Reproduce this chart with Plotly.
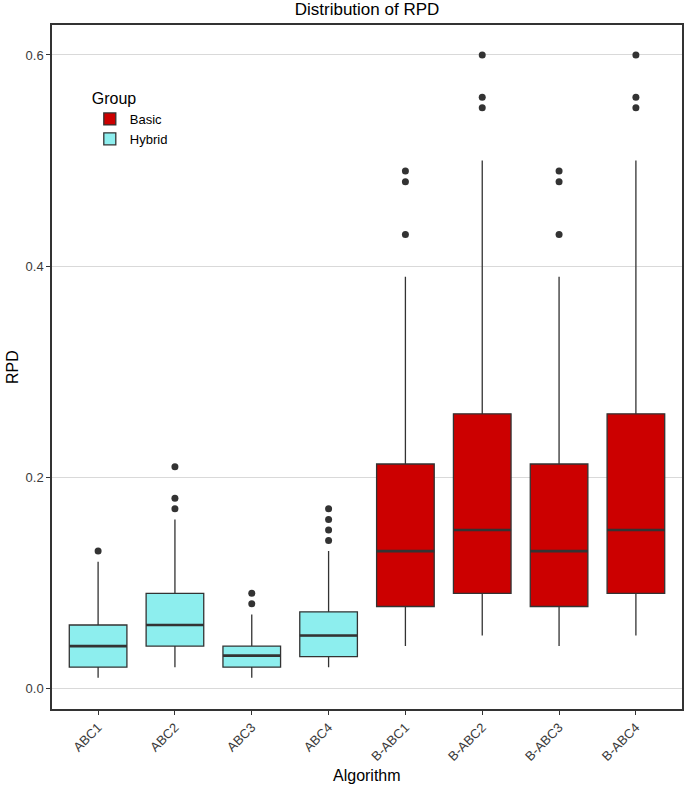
import plotly.graph_objects as go

categories = ["ABC1", "ABC2", "ABC3", "ABC4", "B-ABC1", "B-ABC2", "B-ABC3", "B-ABC4"]

hybrid_cats = ["ABC1", "ABC2", "ABC3", "ABC4"]
hybrid_lower = [0.01, 0.02, 0.01, 0.02]
hybrid_q1 = [0.02, 0.04, 0.02, 0.03]
hybrid_median = [0.04, 0.06, 0.031, 0.05]
hybrid_q3 = [0.06, 0.09, 0.04, 0.0725]
hybrid_upper = [0.12, 0.16, 0.07, 0.13]
hybrid_out_x = ["ABC1", "ABC2", "ABC2", "ABC2", "ABC3", "ABC3", "ABC4", "ABC4", "ABC4", "ABC4"]
hybrid_out_y = [0.13, 0.17, 0.18, 0.21, 0.08, 0.09, 0.14, 0.15, 0.16, 0.17]

basic_cats = ["B-ABC1", "B-ABC2", "B-ABC3", "B-ABC4"]
basic_lower = [0.04, 0.05, 0.04, 0.05]
basic_q1 = [0.0775, 0.09, 0.0775, 0.09]
basic_median = [0.13, 0.15, 0.13, 0.15]
basic_q3 = [0.2125, 0.26, 0.2125, 0.26]
basic_upper = [0.39, 0.50, 0.39, 0.50]
basic_out_x = ["B-ABC1", "B-ABC1", "B-ABC1", "B-ABC2", "B-ABC2", "B-ABC2",
               "B-ABC3", "B-ABC3", "B-ABC3", "B-ABC4", "B-ABC4", "B-ABC4"]
basic_out_y = [0.43, 0.48, 0.49, 0.55, 0.56, 0.60,
               0.43, 0.48, 0.49, 0.55, 0.56, 0.60]

y_ticks = [0.0, 0.2, 0.4, 0.6]
y_tick_labels = ["0.0", "0.2", "0.4", "0.6"]

RED = "#CC0000"
CYAN = "#8DEEEE"
LINE = "#333333"
FONT = "Arial, Liberation Sans, sans-serif"

W, H = 685, 791
L, R, T, B = 52, 3, 25, 82

fig = go.Figure()

for name, cats, lo, q1, med, q3, up, fill in [
    ("Basic", basic_cats, basic_lower, basic_q1, basic_median, basic_q3, basic_upper, RED),
    ("Hybrid", hybrid_cats, hybrid_lower, hybrid_q1, hybrid_median, hybrid_q3, hybrid_upper, CYAN),
]:
    fig.add_trace(go.Box(
        name=name, x=cats, q1=q1, median=med, q3=q3,
        lowerfence=lo, upperfence=up, boxpoints=False,
        fillcolor=fill, line=dict(color=LINE, width=1.3), width=0.75, whiskerwidth=0,
        legendgroup=name,
    ))
    # thicker median bar, as ggplot draws it
    fig.add_trace(go.Box(
        name=name, x=cats, q1=med, median=med, q3=med,
        lowerfence=med, upperfence=med, boxpoints=False,
        fillcolor="rgba(0,0,0,0)", line=dict(color=LINE, width=2.6), width=0.75,
        whiskerwidth=0, showlegend=False, legendgroup=name, hoverinfo="skip",
    ))

fig.add_trace(go.Scatter(
    x=hybrid_out_x + basic_out_x, y=hybrid_out_y + basic_out_y, mode="markers",
    marker=dict(color=LINE, size=7), showlegend=False, hoverinfo="y",
))

fig.update_layout(
    width=W, height=H,
    margin=dict(l=L, r=R, t=T, b=B),
    paper_bgcolor="white", plot_bgcolor="white",
    boxmode="overlay",
    font=dict(family=FONT, color="black"),
    title=dict(text="Distribution of RPD", x=(52 + 682) / 2 / W, xanchor="center",
               y=1 - 9 / H, yanchor="middle", yref="container",
               font=dict(size=17, color="black")),
    legend=dict(
        title=dict(text="Group", font=dict(size=16)),
        x=0.06, y=0.915, xanchor="left", yanchor="top",
        bgcolor="rgba(0,0,0,0)", font=dict(size=13), traceorder="normal",
        itemwidth=30,
    ),
    xaxis=dict(
        type="category", categoryorder="array", categoryarray=categories,
        range=[-0.6, 7.6], automargin=False,
        showgrid=True, gridcolor="white", gridwidth=1,
        showline=True, mirror=True, linecolor=LINE, linewidth=1.5,
        ticks="outside", ticklen=4, tickcolor=LINE, tickangle=-45,
        tickfont=dict(size=13, color="#3A3A3A"),
        zeroline=False,
    ),
    yaxis=dict(
        range=[-0.0196, 0.6284], automargin=False,
        tickvals=y_ticks, ticktext=y_tick_labels,
        showgrid=True, gridcolor="#D9D9D9", gridwidth=1.2,
        showline=True, mirror=True, linecolor=LINE, linewidth=1.5,
        ticks="outside", ticklen=4, tickcolor=LINE,
        tickfont=dict(size=13, color="#3A3A3A"),
        zeroline=False,
    ),
    annotations=[
        dict(text="Algorithm", xref="paper", yref="paper", x=0.5,
             y=-(776 - (H - B)) / (H - T - B), xanchor="center", yanchor="middle",
             showarrow=False, font=dict(size=16, color="black")),
        dict(text="RPD", xref="paper", yref="paper", x=-(L - 12) / (W - L - R),
             y=(H - B - 367) / (H - T - B), xanchor="center", yanchor="middle",
             textangle=-90, showarrow=False, font=dict(size=16, color="black")),
    ],
)

# remove the browser's default 8px page margin so the figure fills the window exactly
fig.write_html("out.html", config={"displayModeBar": False},
               post_script="document.body.style.margin='0';document.body.style.overflow='hidden';")
